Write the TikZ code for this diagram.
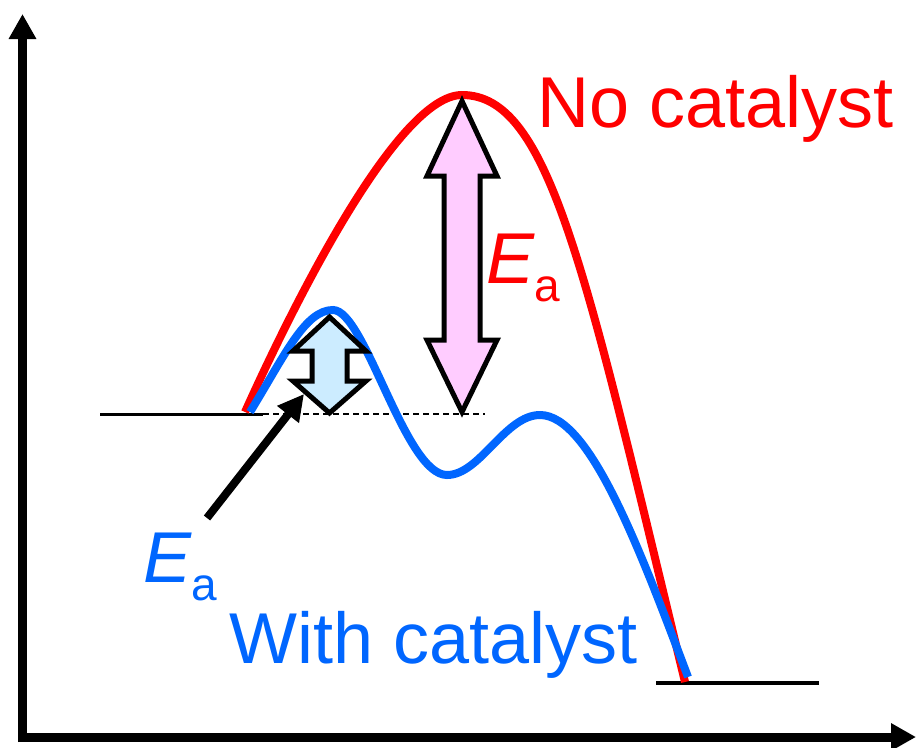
\documentclass[tikz,border=0pt]{standalone}
\usepackage{fontspec}
\setmainfont{Liberation Sans}
\usetikzlibrary{arrows.meta}
\definecolor{cred}{RGB}{255,0,0}
\definecolor{cblue}{RGB}{0,102,255}
\definecolor{cpink}{RGB}{255,204,255}
\definecolor{clblue}{RGB}{204,236,255}
\begin{document}
\begin{tikzpicture}[x=1pt,y=-1pt,
  axis/.style={line width=9pt,-{Triangle[length=25pt,width=26pt]}},
  curve/.style={line width=8pt},
  dbl/.style={draw=black,line width=5pt,line join=miter},
  lbl/.style={inner sep=0pt,anchor=base west,font=\fontsize{72}{80}\selectfont}]
\useasboundingbox (0,0) rectangle (917,747);
% axes
\coordinate (origin) at (22.5,737);
\coordinate (ytop) at (22.5,14);
\coordinate (xend) at (916,737);
\draw[axis] (22.5,742) -- (ytop);
\draw[axis] (18,737) -- (xend);
% levels
\coordinate (rL) at (100,414);
\coordinate (rR) at (263,414);
\coordinate (dE) at (485,414);
\coordinate (pL) at (656,683);
\coordinate (pR) at (819,683);
\draw[line width=3pt] (rL) -- (rR);
\draw[line width=1.5pt,dash pattern=on 6pt off 4pt] (rR) -- (dE);
\draw[line width=4pt] (pL) -- (pR);
% curves
\draw[curve,draw=cred] (245,412) .. controls (300,290) and (400,95) .. (462,95)
  .. controls (550,95) and (585,270) .. (685,682);
\draw[curve,draw=cblue] (250,412) .. controls (285,355) and (305,310) .. (333,310)
  .. controls (365,310) and (405,475) .. (447,475)
  .. controls (480,475) and (505,415) .. (540,415)
  .. controls (590,415) and (640,550) .. (688,677);
% double arrows
\draw[dbl,fill=cpink] (462,101) -- (497,176) -- (480,176) -- (480,340) -- (497,340) -- (462,412)
  -- (427,340) -- (444,340) -- (444,176) -- (427,176) -- cycle;
\draw[dbl,fill=clblue] (329.5,317) -- (366,351) -- (347,351) -- (347,381) -- (366,381) -- (329.5,413)
  -- (293,381) -- (312,381) -- (312,351) -- (293,351) -- cycle;
% pointer arrow
\coordinate (eaTail) at (207,518);
\coordinate (eaTip) at (304,394);
\draw[line width=8pt,-{Triangle[length=26pt,width=26pt]}] (eaTail) -- (eaTip);
% labels
\node[lbl,text=cred] (nocat) at (537,127) {No catalyst};
\node[lbl,text=cblue] (withcat) at (229,663) {With catalyst};
\node[lbl,text=cred] (eared) at (486,283) {\textit{E}\raisebox{-18pt}{\fontsize{46}{50}\selectfont a}};
\node[lbl,text=cblue] (eablue) at (143,582) {\textit{E}\raisebox{-18pt}{\fontsize{46}{50}\selectfont a}};
\end{tikzpicture}
\end{document}
